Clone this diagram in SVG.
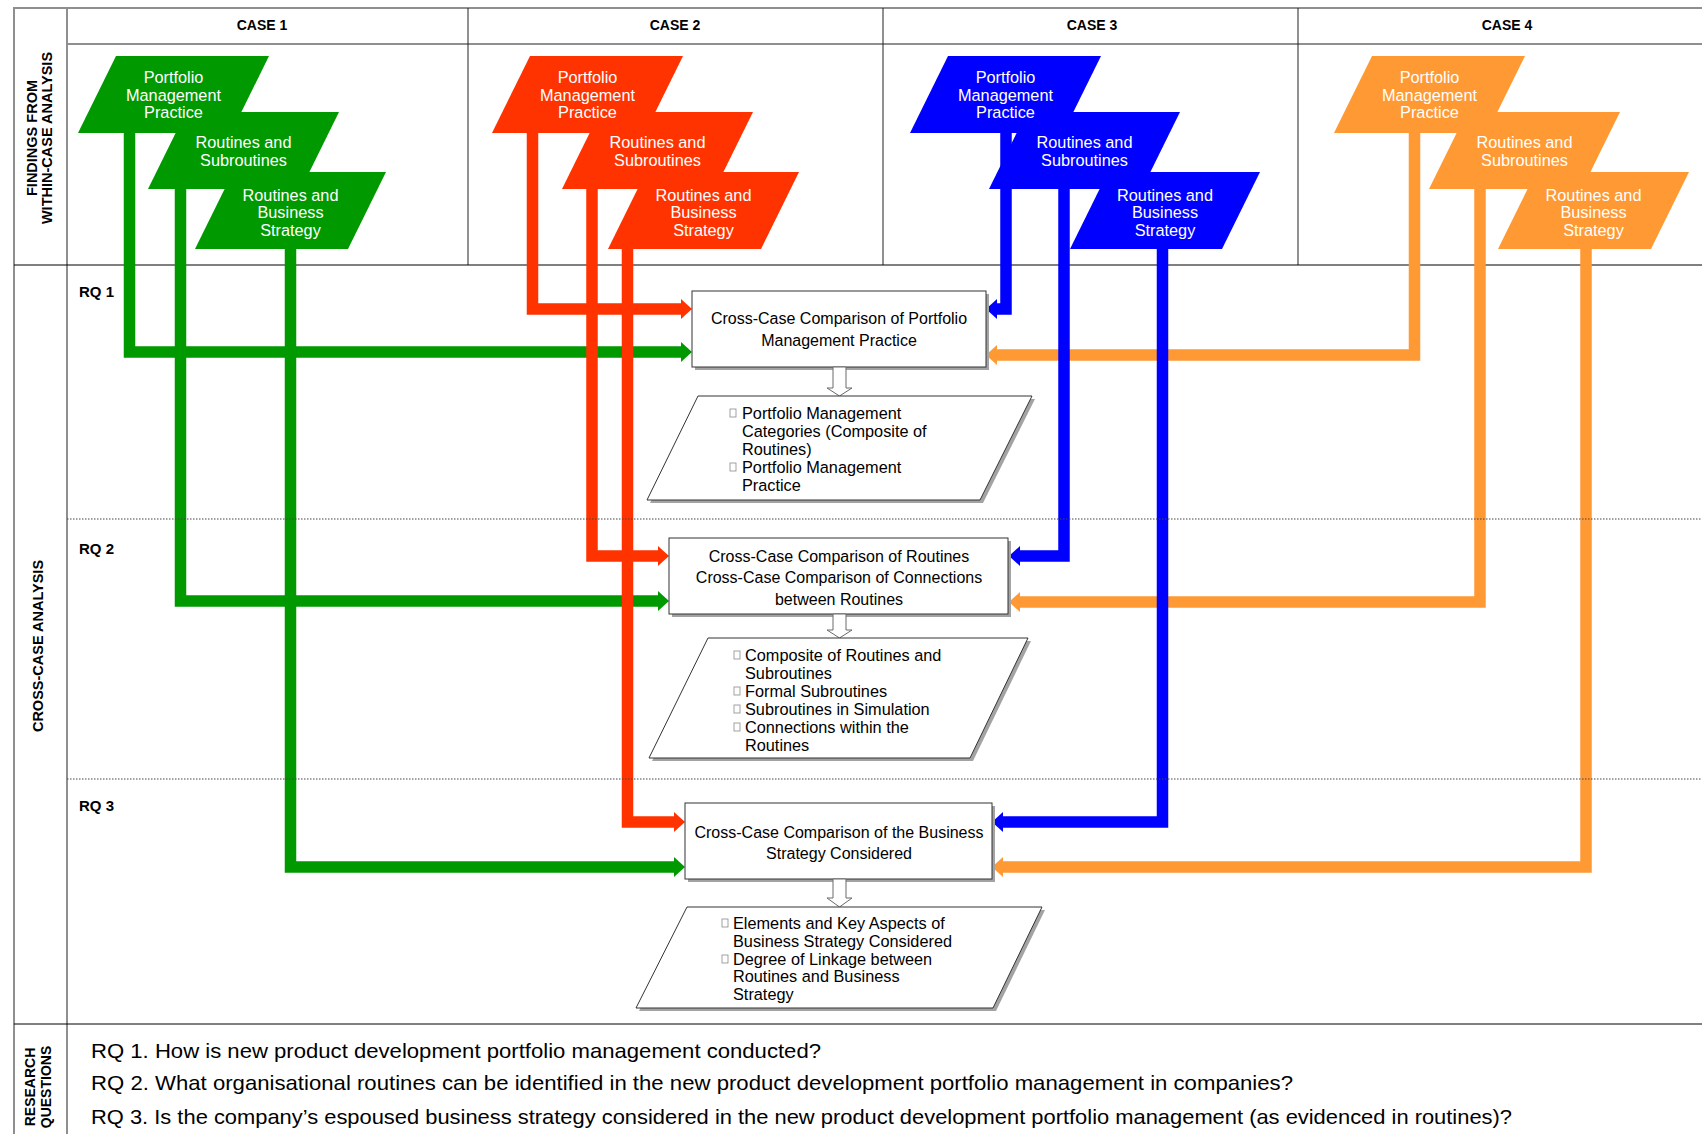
<svg xmlns="http://www.w3.org/2000/svg" width="1702" height="1134" viewBox="0 0 1702 1134">
  <style>
    text { font-family: "Liberation Sans", Arial, sans-serif; }
    .grid { stroke: #8f8f8f; stroke-width: 2; fill: none; }
    .rule { stroke: #000; stroke-width: 1; fill: none; }
    .coldiv { stroke: #222; stroke-width: 1; fill: none; }
    .dot { stroke: #444; stroke-width: 1; stroke-dasharray: 1.5 1.5; fill: none; }
    .hdr { font-weight: bold; font-size: 14px; fill: #000; text-anchor: middle; }
    .side { font-weight: bold; font-size: 14.5px; fill: #000; text-anchor: middle; }
    .side-s { font-weight: bold; font-size: 14px; fill: #000; text-anchor: middle; }
    .rq { font-weight: bold; font-size: 15px; fill: #000; }
    .q { font-size: 21px; fill: #000; }
    .lab { font-size: 16.3px; fill: #fff; text-anchor: middle; }
    .green { fill: #009900; }
    .red { fill: #ff3300; }
    .blue { fill: #0000ff; }
    .orange { fill: #ff9933; }
    .link { fill: none; stroke-width: 11.5; stroke-linejoin: miter; stroke-linecap: butt; }
    .lg { stroke: #009900; }
    .lr { stroke: #ff3300; }
    .lb { stroke: #0000ff; }
    .lo { stroke: #ff9933; }
    .box { fill: #fff; stroke: #333; stroke-width: 1; }
    .shadow { fill: #a3a3a3; }
    .btxt { font-size: 16px; fill: #000; text-anchor: middle; }
    .ltxt { font-size: 16.3px; fill: #000; }
    .bullet { fill: #fff; stroke: #8a8a8a; stroke-width: 0.8; }
    .down { fill: #fff; stroke: #6a6a6a; stroke-width: 1; }
  </style>
  <defs>
    <marker id="head-g" markerUnits="userSpaceOnUse" markerWidth="12" markerHeight="20" refX="0" refY="10" orient="auto" viewBox="0 0 12 20">
      <path d="M0,0 L11,10 L0,20 z" fill="#009900"/>
    </marker>
    <marker id="head-r" markerUnits="userSpaceOnUse" markerWidth="12" markerHeight="20" refX="0" refY="10" orient="auto" viewBox="0 0 12 20">
      <path d="M0,0 L11,10 L0,20 z" fill="#ff3300"/>
    </marker>
    <marker id="head-b" markerUnits="userSpaceOnUse" markerWidth="12" markerHeight="20" refX="0" refY="10" orient="auto" viewBox="0 0 12 20">
      <path d="M0,0 L11,10 L0,20 z" fill="#0000ff"/>
    </marker>
    <marker id="head-o" markerUnits="userSpaceOnUse" markerWidth="12" markerHeight="20" refX="0" refY="10" orient="auto" viewBox="0 0 12 20">
      <path d="M0,0 L11,10 L0,20 z" fill="#ff9933"/>
    </marker>
  </defs>

  <rect x="0" y="0" width="1702" height="1134" fill="#fff"/>

  <!-- table frame -->
  <g id="table">
    <line class="grid" x1="14" y1="8" x2="1702" y2="8"/>
    <line class="grid" x1="67" y1="44" x2="1702" y2="44"/>
    <line class="grid" x1="14" y1="7" x2="14" y2="1134"/>
    <line class="grid" x1="67" y1="7" x2="67" y2="1134"/>
    <line class="coldiv" x1="468" y1="8" x2="468" y2="265"/>
    <line class="coldiv" x1="883" y1="8" x2="883" y2="265"/>
    <line class="coldiv" x1="1298" y1="8" x2="1298" y2="265"/>
    <line class="rule" x1="14" y1="265" x2="1702" y2="265"/>
    <line class="rule" x1="14" y1="1024" x2="1702" y2="1024"/>
    <text class="hdr" x="262" y="30">CASE 1</text>
    <text class="hdr" x="675" y="30">CASE 2</text>
    <text class="hdr" x="1092" y="30">CASE 3</text>
    <text class="hdr" x="1507" y="30">CASE 4</text>
    <text class="side" transform="translate(37,138) rotate(-90)">FINDINGS FROM</text>
    <text class="side" transform="translate(52,138) rotate(-90)">WITHIN-CASE ANALYSIS</text>
    <text class="side" transform="translate(43,646) rotate(-90)">CROSS-CASE ANALYSIS</text>
    <text class="side-s" transform="translate(35,1087) rotate(-90)">RESEARCH</text>
    <text class="side-s" transform="translate(51,1087) rotate(-90)">QUESTIONS</text>
    <text class="rq" x="79" y="297">RQ 1</text>
    <text class="rq" x="79" y="554">RQ 2</text>
    <text class="rq" x="79" y="811">RQ 3</text>
  </g>

  <!-- connectors from the case findings to the comparison boxes -->
  <g id="connectors">
    <path class="link lg" d="M129.5,128 V352 H681" marker-end="url(#head-g)"/>
    <path class="link lg" d="M180.5,184 V601 H658" marker-end="url(#head-g)"/>
    <path class="link lg" d="M290.5,244 V867 H674" marker-end="url(#head-g)"/>
    <path class="link lo" d="M1414.5,128 V355 H997" marker-end="url(#head-o)"/>
    <path class="link lo" d="M1480,184 V602 H1020" marker-end="url(#head-o)"/>
    <path class="link lo" d="M1586,244 V867 H1003" marker-end="url(#head-o)"/>
    <path class="link lr" d="M532.5,128 V309 H681" marker-end="url(#head-r)"/>
    <path class="link lr" d="M592,184 V556 H658" marker-end="url(#head-r)"/>
    <path class="link lr" d="M627.5,244 V822 H674" marker-end="url(#head-r)"/>
    <path class="link lb" d="M1006,128 V309 H997" marker-end="url(#head-b)"/>
    <path class="link lb" d="M1064,184 V556 H1020" marker-end="url(#head-b)"/>
    <path class="link lb" d="M1162.5,244 V822 H1003" marker-end="url(#head-b)"/>
  </g>

  <!-- row separators -->
  <line class="dot" x1="67" y1="519" x2="1702" y2="519"/>
  <line class="dot" x1="67" y1="779" x2="1702" y2="779"/>

  <!-- case findings: lower shapes first so upper labels stay on top -->
  <g id="case1-strategy">
    <polygon class="green" points="233,172 386,172 348,249 195,249"/>
    <text class="lab" x="290.5" y="200.5">Routines and</text>
    <text class="lab" x="290.5" y="218">Business</text>
    <text class="lab" x="290.5" y="235.5">Strategy</text>
  </g>
  <g id="case1-routines">
    <polygon class="green" points="186,112 339,112 301,189 148,189"/>
    <text class="lab" x="243.5" y="148">Routines and</text>
    <text class="lab" x="243.5" y="165.5">Subroutines</text>
  </g>
  <g id="case1-portfolio">
    <polygon class="green" points="116,56 269,56 231,133 78,133"/>
    <text class="lab" x="173.5" y="83">Portfolio</text>
    <text class="lab" x="173.5" y="100.5">Management</text>
    <text class="lab" x="173.5" y="118">Practice</text>
  </g>

  <g id="case2-strategy">
    <polygon class="red" points="646,172 799,172 761,249 608,249"/>
    <text class="lab" x="703.5" y="200.5">Routines and</text>
    <text class="lab" x="703.5" y="218">Business</text>
    <text class="lab" x="703.5" y="235.5">Strategy</text>
  </g>
  <g id="case2-routines">
    <polygon class="red" points="600,112 753,112 715,189 562,189"/>
    <text class="lab" x="657.5" y="148">Routines and</text>
    <text class="lab" x="657.5" y="165.5">Subroutines</text>
  </g>
  <g id="case2-portfolio">
    <polygon class="red" points="530,56 683,56 645,133 492,133"/>
    <text class="lab" x="587.5" y="83">Portfolio</text>
    <text class="lab" x="587.5" y="100.5">Management</text>
    <text class="lab" x="587.5" y="118">Practice</text>
  </g>

  <g id="case3-strategy">
    <polygon class="blue" points="1108,172 1260,172 1222,249 1070,249"/>
    <text class="lab" x="1165" y="200.5">Routines and</text>
    <text class="lab" x="1165" y="218">Business</text>
    <text class="lab" x="1165" y="235.5">Strategy</text>
  </g>
  <g id="case3-routines">
    <polygon class="blue" points="1027,112 1180,112 1142,189 989,189"/>
    <text class="lab" x="1084.5" y="148">Routines and</text>
    <text class="lab" x="1084.5" y="165.5">Subroutines</text>
  </g>
  <g id="case3-portfolio">
    <polygon class="blue" points="948,56 1101,56 1063,133 910,133"/>
    <text class="lab" x="1005.5" y="83">Portfolio</text>
    <text class="lab" x="1005.5" y="100.5">Management</text>
    <text class="lab" x="1005.5" y="118">Practice</text>
  </g>

  <g id="case4-strategy">
    <polygon class="orange" points="1536,172 1689,172 1651,249 1498,249"/>
    <text class="lab" x="1593.5" y="200.5">Routines and</text>
    <text class="lab" x="1593.5" y="218">Business</text>
    <text class="lab" x="1593.5" y="235.5">Strategy</text>
  </g>
  <g id="case4-routines">
    <polygon class="orange" points="1467,112 1620,112 1582,189 1429,189"/>
    <text class="lab" x="1524.5" y="148">Routines and</text>
    <text class="lab" x="1524.5" y="165.5">Subroutines</text>
  </g>
  <g id="case4-portfolio">
    <polygon class="orange" points="1372,56 1525,56 1487,133 1334,133"/>
    <text class="lab" x="1429.5" y="83">Portfolio</text>
    <text class="lab" x="1429.5" y="100.5">Management</text>
    <text class="lab" x="1429.5" y="118">Practice</text>
  </g>

  <!-- RQ 1: comparison and outcome -->
  <g id="compare-portfolio">
    <rect class="shadow" x="695" y="294" width="294" height="76"/>
    <rect class="box" x="692" y="291" width="294" height="76"/>
    <text class="btxt" x="839" y="324">Cross-Case Comparison of Portfolio</text>
    <text class="btxt" x="839" y="346">Management Practice</text>
  </g>
  <g id="flow-1">
    <polygon class="down" points="833,367 846,367 846,388 852,388 839.5,396 827,388 833,388"/>
  </g>
  <g id="outcome-portfolio">
    <polygon class="shadow" points="701,399 1035,399 983,503 650,503"/>
    <polygon class="box" points="698,396 1032,396 980,500 647,500"/>
    <rect class="bullet" x="730" y="409" width="6" height="8"/>
    <text class="ltxt" x="742" y="419">Portfolio Management</text>
    <text class="ltxt" x="742" y="437">Categories (Composite of</text>
    <text class="ltxt" x="742" y="455">Routines)</text>
    <rect class="bullet" x="730" y="463" width="6" height="8"/>
    <text class="ltxt" x="742" y="473">Portfolio Management</text>
    <text class="ltxt" x="742" y="491">Practice</text>
  </g>

  <!-- RQ 2: comparison and outcome -->
  <g id="compare-routines">
    <rect class="shadow" x="672" y="541" width="339" height="76"/>
    <rect class="box" x="669" y="538" width="339" height="76"/>
    <text class="btxt" x="839" y="562">Cross-Case Comparison of Routines</text>
    <text class="btxt" x="839" y="583">Cross-Case Comparison of Connections</text>
    <text class="btxt" x="839" y="605">between Routines</text>
  </g>
  <g id="flow-2">
    <polygon class="down" points="833,614 846,614 846,630 852,630 839.5,638 827,630 833,630"/>
  </g>
  <g id="outcome-routines">
    <polygon class="shadow" points="711,641 1031,641 973,761 652,761"/>
    <polygon class="box" points="708,638 1028,638 970,758 649,758"/>
    <rect class="bullet" x="734" y="651" width="6" height="8"/>
    <text class="ltxt" x="745" y="661">Composite of Routines and</text>
    <text class="ltxt" x="745" y="679">Subroutines</text>
    <rect class="bullet" x="734" y="687" width="6" height="8"/>
    <text class="ltxt" x="745" y="697">Formal Subroutines</text>
    <rect class="bullet" x="734" y="705" width="6" height="8"/>
    <text class="ltxt" x="745" y="715">Subroutines in Simulation</text>
    <rect class="bullet" x="734" y="723" width="6" height="8"/>
    <text class="ltxt" x="745" y="733">Connections within the</text>
    <text class="ltxt" x="745" y="751">Routines</text>
  </g>

  <!-- RQ 3: comparison and outcome -->
  <g id="compare-strategy">
    <rect class="shadow" x="688" y="806" width="307" height="76"/>
    <rect class="box" x="685" y="803" width="307" height="76"/>
    <text class="btxt" x="839" y="838">Cross-Case Comparison of the Business</text>
    <text class="btxt" x="839" y="859">Strategy Considered</text>
  </g>
  <g id="flow-3">
    <polygon class="down" points="833,879 846,879 846,898 852,898 839.5,907 827,898 833,898"/>
  </g>
  <g id="outcome-strategy">
    <polygon class="shadow" points="690,910 1045,910 996,1011 639,1011"/>
    <polygon class="box" points="687,907 1042,907 993,1008 636,1008"/>
    <rect class="bullet" x="722" y="919" width="6" height="8"/>
    <text class="ltxt" x="733" y="929">Elements and Key Aspects of</text>
    <text class="ltxt" x="733" y="947">Business Strategy Considered</text>
    <rect class="bullet" x="722" y="955" width="6" height="8"/>
    <text class="ltxt" x="733" y="965">Degree of Linkage between</text>
    <text class="ltxt" x="733" y="982">Routines and Business</text>
    <text class="ltxt" x="733" y="1000">Strategy</text>
  </g>

  <!-- research questions -->
  <g id="questions">
    <text class="q" x="91" y="1058" textLength="730" lengthAdjust="spacingAndGlyphs">RQ 1. How is new product development portfolio management conducted?</text>
    <text class="q" x="91" y="1090" textLength="1202" lengthAdjust="spacingAndGlyphs">RQ 2. What organisational routines can be identified in the new product development portfolio management in companies?</text>
    <text class="q" x="91" y="1124" textLength="1421" lengthAdjust="spacingAndGlyphs">RQ 3. Is the company’s espoused business strategy considered in the new product development portfolio management (as evidenced in routines)?</text>
  </g>
</svg>
